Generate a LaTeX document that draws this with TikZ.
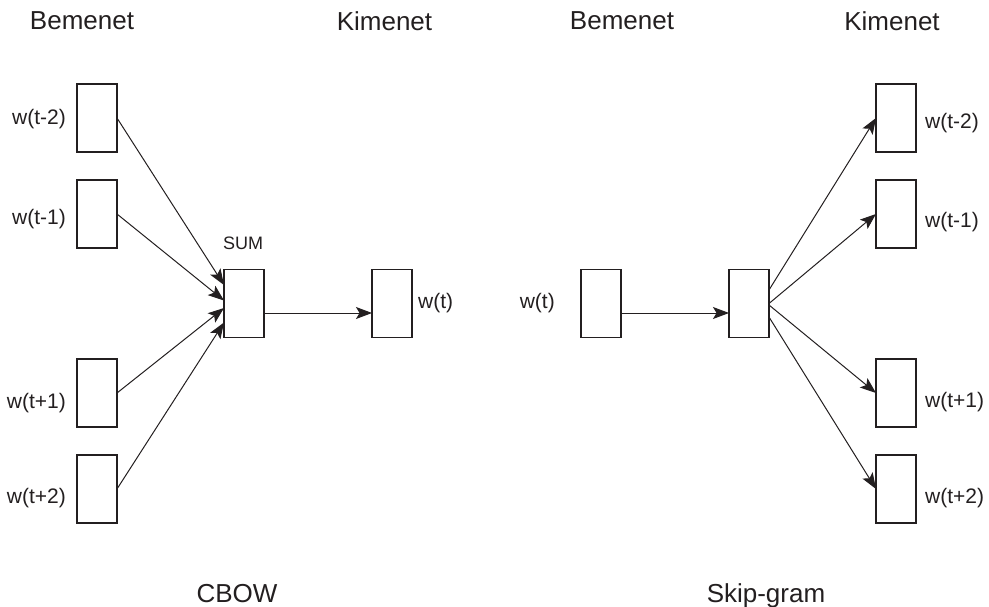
\documentclass[tikz,border=0pt]{standalone}
\usepackage{fontspec}
\setmainfont{Liberation Sans}
\usetikzlibrary{arrows.meta}
\definecolor{ink}{RGB}{35,31,32}
\tikzset{
  wbox/.style={draw=ink, line width=1.2pt, minimum width=40pt, minimum height=68pt, inner sep=0pt, outer sep=0pt},
  wlab/.style={text=ink, font=\fontsize{21}{24}\selectfont, inner sep=0pt},
  head/.style={text=ink, font=\fontsize{26}{30}\selectfont, inner sep=0pt},
  conn/.style={draw=ink, line width=1pt, -{Stealth[length=16pt,width=12pt,inset=3.5pt]}}
}
\begin{document}
\begin{tikzpicture}[x=1pt,y=-1pt]
\useasboundingbox (0,0) rectangle (989,607);
% headers
\node[head] (h1) at (82,21) {Bemenet};
\node[head] (h2) at (384.5,21) {Kimenet};
\node[head] (h3) at (622,21) {Bemenet};
\node[head] (h4) at (892,21) {Kimenet};
\node[head, anchor=base] (t1) at (237,602) {CBOW};
\node[head, anchor=base] (t2) at (766,602) {Skip-gram};
% CBOW
\node[wbox] (a1) at (97,118) {};
\node[wbox] (a2) at (97,214) {};
\node[wbox] (a3) at (97,393) {};
\node[wbox] (a4) at (97,489) {};
\node[wbox] (sum) at (244,303.5) {};
\node[wbox] (out) at (392,303.5) {};
\node[wlab, anchor=east] (la1) at (66,119) {w(t-2)};
\node[wlab, anchor=east] (la2) at (66,219) {w(t-1)};
\node[wlab, anchor=east] (la3) at (66,403) {w(t+1)};
\node[wlab, anchor=east] (la4) at (66,498) {w(t+2)};
\node[text=ink, font=\fontsize{18}{21}\selectfont, inner sep=0pt] (sl) at (243,243) {SUM};
\node[wlab, anchor=west] (lo) at (418,303) {w(t)};
\draw[conn] (a1.east) -- ([yshift=18.5pt]sum.west);
\draw[conn] (a2.east) -- ([yshift=3pt]sum.west);
\draw[conn] (a3.east) -- ([yshift=-4.5pt]sum.west);
\draw[conn] (a4.east) -- ([yshift=-19pt]sum.west);
\draw[conn] ([yshift=-9.5pt]sum.east) -- ([yshift=-9.5pt]out.west);
% Skip-gram
\node[wbox] (in) at (601,303.5) {};
\node[wbox] (hid) at (749,303.5) {};
\node[wbox] (b1) at (896,118) {};
\node[wbox] (b2) at (896,214) {};
\node[wbox] (b3) at (896,393) {};
\node[wbox] (b4) at (896,489) {};
\node[wlab, anchor=east] (li) at (555,303) {w(t)};
\node[wlab, anchor=west] (lb1) at (925,123) {w(t-2)};
\node[wlab, anchor=west] (lb2) at (925,222) {w(t-1)};
\node[wlab, anchor=west] (lb3) at (925,402) {w(t+1)};
\node[wlab, anchor=west] (lb4) at (925,498) {w(t+2)};
\draw[conn] ([yshift=-9.5pt]in.east) -- ([yshift=-9.5pt]hid.west);
\draw[conn] ([yshift=13.5pt]hid.east) -- (b1.west);
\draw[conn] ([yshift=0pt]hid.east) -- (b2.west);
\draw[conn] ([yshift=-1.5pt]hid.east) -- (b3.west);
\draw[conn] ([yshift=-13.5pt]hid.east) -- (b4.west);
\end{tikzpicture}
\end{document}
